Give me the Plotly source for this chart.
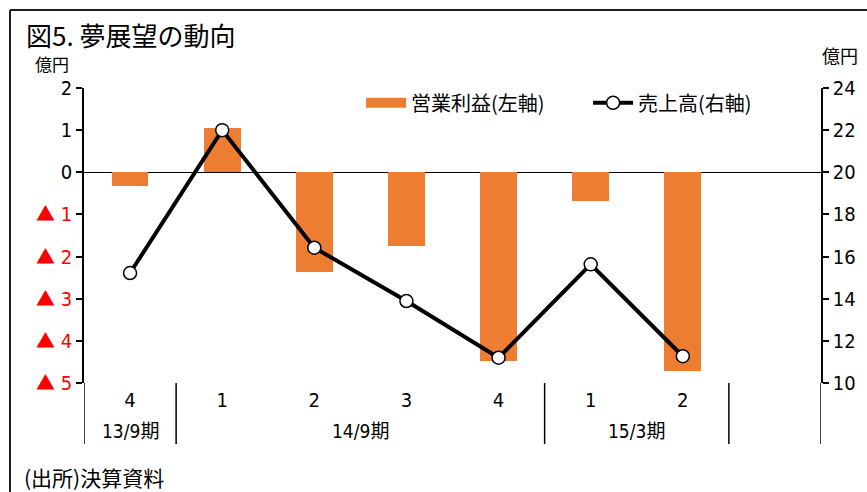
import plotly.graph_objects as go

# ---- data ----
quarters = ["4", "1", "2", "3", "4", "1", "2"]
periods = ["13/9期", "14/9期", "15/3期"]
period_spans = [(0, 0), (1, 4), (5, 6)]  # index ranges of quarters per period
op_profit = [-0.32, 1.05, -2.37, -1.75, -4.47, -0.67, -4.71]  # 億円 left axis
sales = [15.22, 22.0, 16.42, 13.89, 11.2, 15.63, 11.27]       # 億円 right axis
left_ticks = [-5, -4, -3, -2, -1, 0, 1, 2]
right_ticks = [10, 12, 14, 16, 18, 20, 22, 24]

FONT = "Liberation Sans Narrow, DejaVu Sans Condensed, Noto Sans CJK JP, sans-serif"
CJK = "Noto Sans CJK JP, sans-serif"
ORANGE = "#ED7D31"

xs = list(range(len(quarters)))
n_slots = 8

fig = go.Figure()
fig.add_trace(go.Bar(x=xs, y=op_profit, marker=dict(color=ORANGE, line=dict(width=0)),
                     width=0.4, showlegend=False, yaxis="y"))
# legend proxy for bars
fig.add_trace(go.Scatter(x=[None], y=[None], mode="lines", name="営業利益(左軸)",
                         line=dict(color=ORANGE, width=10), yaxis="y"))
fig.add_trace(go.Scatter(x=xs, y=sales, mode="lines+markers", name="売上高(右軸)",
                         line=dict(color="black", width=4),
                         marker=dict(size=13, color="white", line=dict(color="black", width=1.5)),
                         yaxis="y2"))

def lt(v):
    if v < 0:
        return (f"<span style='color:#FF0000'><span style='font-family:Noto Sans CJK JP;"
                f"font-size:19px'>▲</span> {abs(v)}</span>")
    return str(v)

fig.update_layout(
    width=867, height=492,
    margin=dict(l=84, r=46, t=88, b=109),
    paper_bgcolor="white", plot_bgcolor="white",
    font=dict(family=FONT, size=16, color="black"),
    bargap=0,
    xaxis=dict(range=[-0.5, n_slots - 0.5], tickmode="array", tickvals=xs, ticktext=quarters,
               showline=False, showgrid=False, zeroline=False, ticks="",
               ticklabelstandoff=3,
               tickfont=dict(size=20, family=FONT)),
    yaxis=dict(range=[-5, 2], tickmode="array", tickvals=left_ticks,
               ticktext=[lt(v) for v in left_ticks],
               showline=True, linecolor="black", linewidth=1.5, ticks="outside", ticklen=6,
               tickwidth=1.5, tickcolor="black", showgrid=False,
               zeroline=True, zerolinecolor="black", zerolinewidth=1.2,
               tickfont=dict(size=20, family=FONT)),
    yaxis2=dict(range=[10, 24], overlaying="y", side="right", tickmode="array",
                tickvals=right_ticks, showline=True, linecolor="black", linewidth=1.5,
                ticks="outside", ticklen=6, tickwidth=1.5, tickcolor="black",
                showgrid=False, zeroline=False, tickfont=dict(size=20, family=FONT)),
    legend=dict(orientation="h", x=0.376, y=0.95, xanchor="left", yanchor="middle",
                bgcolor="rgba(0,0,0,0)", font=dict(size=20, family=CJK),
                itemwidth=40, entrywidth=172, entrywidthmode="pixels", traceorder="normal"),
    title=dict(text="図5. 夢展望の動向", x=26 / 867, xanchor="left", y=1 - 37 / 492,
               yanchor="middle", font=dict(size=26, family=CJK, color="black")),
)

shapes = []
# separators / axis extensions below the plot
for xv in [-0.5, 0.5, 4.5, 6.5, n_slots - 0.5]:
    shapes.append(dict(type="line", xref="x", yref="paper", x0=xv, x1=xv, y0=0, y1=-(444 - 383) / 295,
                       line=dict(color="black", width=1.5)))
# outer frame: left and top
shapes.append(dict(type="line", xref="paper", yref="paper", x0=(10 - 84) / 737, x1=(10 - 84) / 737,
                   y0=(383 - 10) / 295, y1=(383 - 500) / 295, line=dict(color="#231F20", width=2)))
shapes.append(dict(type="line", xref="paper", yref="paper", x0=(10 - 84) / 737, x1=(870 - 84) / 737,
                   y0=(383 - 10) / 295, y1=(383 - 10) / 295, line=dict(color="#231F20", width=2)))
fig.update_layout(shapes=shapes)

ann = []
for name, (a, b) in zip(periods, period_spans):
    ann.append(dict(text=name, x=(a + b) / 2, xref="x", y=-(431 - 383) / 295, yref="paper",
                    showarrow=False, font=dict(size=19, family=FONT), xanchor="center", yanchor="middle"))
ann.append(dict(text="億円", x=(52 - 84) / 737, y=(383 - 64) / 295, xref="paper", yref="paper",
                showarrow=False, font=dict(size=17, family=CJK), xanchor="center", yanchor="middle"))
ann.append(dict(text="億円", x=(840 - 84) / 737, y=(383 - 55) / 295, xref="paper", yref="paper",
                showarrow=False, font=dict(size=18, family=CJK), xanchor="center", yanchor="middle"))
ann.append(dict(text="(出所)決算資料", x=(22 - 84) / 737, y=(383 - 477) / 295, xref="paper", yref="paper",
                showarrow=False, font=dict(size=21, family=CJK), xanchor="left", yanchor="middle"))
fig.update_layout(annotations=ann)

fig.write_html("out.html")
